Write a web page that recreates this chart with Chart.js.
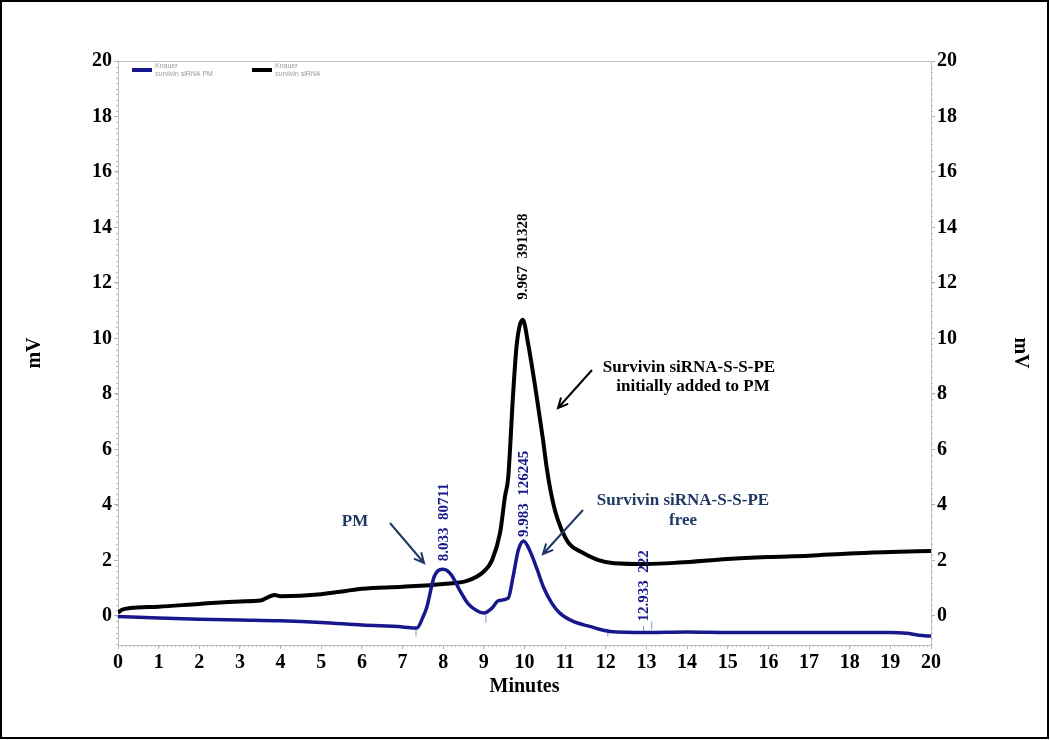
<!DOCTYPE html>
<html>
<head>
<meta charset="utf-8">
<script src="https://cdn.jsdelivr.net/npm/chart.js@4.4.0/dist/chart.umd.min.js"></script>
<style>
  html, body { margin: 0; padding: 0; background: #fff; }
  #wrap { width: 1050px; height: 740px; }
</style>
</head>
<body>
<div id="wrap"><canvas id="chrom" width="1050" height="740"></canvas></div>
<script>
// retention time (min) / signal (mV)
const blueTimes = [0, 1, 2, 3, 4, 5, 6, 7, 7.35, 7.5, 7.6, 7.78, 8.0, 8.2, 8.4, 8.6, 8.82, 9.0, 9.2, 9.36, 9.6, 9.72, 9.85, 9.98, 10.12, 10.3, 10.46, 10.67, 10.87, 11.2, 11.6, 12.1, 13, 14, 15, 16, 17, 18, 19, 19.4, 19.7, 20];
const blueSignal = [-0.02, -0.08, -0.12, -0.15, -0.18, -0.24, -0.33, -0.4, -0.44, -0.05, 0.33, 1.42, 1.68, 1.48, 0.94, 0.46, 0.19, 0.1, 0.28, 0.55, 0.64, 1.42, 2.38, 2.7, 2.38, 1.72, 1.06, 0.46, 0.1, -0.2, -0.38, -0.56, -0.6, -0.58, -0.6, -0.6, -0.6, -0.6, -0.6, -0.63, -0.7, -0.73];

const blackTimes = [0, 0.1, 0.3, 1, 2, 3, 3.5, 3.85, 4, 5, 5.6, 6, 7, 8, 8.6, 9, 9.2, 9.4, 9.52, 9.6, 9.72, 9.81, 9.96, 10.09, 10.3, 10.45, 10.55, 10.63, 10.75, 10.9, 11.1, 11.4, 11.8, 12.2, 13, 13.8, 15, 16, 17, 18, 19, 20];
const blackSignal = [0.12, 0.22, 0.28, 0.33, 0.43, 0.52, 0.55, 0.75, 0.71, 0.78, 0.9, 0.98, 1.05, 1.15, 1.27, 1.6, 2.0, 3.0, 4.3, 5.0, 8.0, 9.8, 10.67, 9.8, 7.9, 6.4, 5.3, 4.6, 3.8, 3.15, 2.6, 2.3, 2.02, 1.9, 1.87, 1.92, 2.05, 2.12, 2.17, 2.25, 2.3, 2.34];

// integration marks on the blue trace
const markTimes = [7.33, 9.05, 12.05, 12.93, 13.13];
const markSignal = [-0.6, -0.1, -0.6, -0.5, -0.35];

// peak tables
const bluePeakTimes = [8.033, 9.983, 12.933];
const bluePeakAreas = [80711, 126245, 222];
const bluePeakHeights = [1.68, 2.7, -0.6];
const blackPeakTimes = [9.967];
const blackPeakAreas = [391328];
const blackPeakHeights = [10.67];

const yTicks = [0, 2, 4, 6, 8, 10, 12, 14, 16, 18, 20];

const BLUE = '#18188c';
const NAVY = '#1f3864';
const SERIF = '"Liberation Serif", "Times New Roman", serif';

const pts = (xs, ys) => xs.map((x, i) => ({ x: x, y: ys[i] }));

const chromPlugin = {
  id: 'chromDecor',
  beforeDraw(chart) {
    const ctx = chart.ctx;
    ctx.save();
    ctx.fillStyle = '#fff';
    ctx.fillRect(0, 0, chart.width, chart.height);
    ctx.restore();
  },
  afterDraw(chart) {
    const ctx = chart.ctx;
    const a = chart.chartArea;
    const x = chart.scales.x, y = chart.scales.y;
    ctx.save();

    // frame top + minor ticks
    ctx.strokeStyle = '#bdbdbd';
    ctx.lineWidth = 1;
    ctx.beginPath();
    ctx.moveTo(a.left, a.top + 0.5); ctx.lineTo(a.right, a.top + 0.5);
    for (let t = 0; t <= 200; t++) {
      const px = Math.round(x.getPixelForValue(t / 10)) + 0.5;
      ctx.moveTo(px, a.bottom); ctx.lineTo(px, a.bottom + 2);
    }
    for (let v = -1; v <= 20.001; v += 0.2) {
      const py = Math.round(y.getPixelForValue(v)) + 0.5;
      ctx.moveTo(a.left - 2, py); ctx.lineTo(a.left, py);
      ctx.moveTo(a.right, py); ctx.lineTo(a.right + 2, py);
    }
    ctx.stroke();

    // legend inside plot
    const legendX = [132, 252];
    chart.data.datasets.slice(0, 2).forEach((ds, i) => {
      const lx = legendX[i];
      ctx.strokeStyle = ds.borderColor;
      ctx.lineWidth = 4;
      ctx.beginPath(); ctx.moveTo(lx, 70); ctx.lineTo(lx + 20, 70); ctx.stroke();
      ctx.fillStyle = '#9a9a9a';
      ctx.font = '7px "Liberation Sans", Arial, sans-serif';
      ctx.textAlign = 'left'; ctx.textBaseline = 'middle';
      ctx.fillText('Knauer', lx + 23, 66);
      ctx.fillText(ds.label, lx + 23, 74);
    });

    // vertical peak labels
    const peakLabel = (t, area, h, gap, color) => {
      ctx.save();
      ctx.translate(x.getPixelForValue(t), y.getPixelForValue(h) - gap);
      ctx.rotate(-Math.PI / 2);
      ctx.fillStyle = color;
      ctx.font = 'bold 15px ' + SERIF;
      ctx.textAlign = 'left'; ctx.textBaseline = 'middle';
      ctx.fillText(t.toFixed(3) + '  ' + area, 0, 0);
      ctx.restore();
    };
    const blueGaps = [8, 4, 11];
    bluePeakTimes.forEach((t, i) => peakLabel(t, bluePeakAreas[i], bluePeakHeights[i], blueGaps[i], BLUE));
    blackPeakTimes.forEach((t, i) => peakLabel(t, blackPeakAreas[i], blackPeakHeights[i], 20, '#000'));

    // callouts
    const arrow = (x1, y1, x2, y2, color) => {
      const ang = Math.atan2(y2 - y1, x2 - x1);
      ctx.strokeStyle = color;
      ctx.lineWidth = 2;
      ctx.beginPath();
      ctx.moveTo(x1, y1); ctx.lineTo(x2, y2);
      ctx.moveTo(x2 - 11 * Math.cos(ang - 0.45), y2 - 11 * Math.sin(ang - 0.45));
      ctx.lineTo(x2, y2);
      ctx.lineTo(x2 - 11 * Math.cos(ang + 0.45), y2 - 11 * Math.sin(ang + 0.45));
      ctx.stroke();
    };
    ctx.font = 'bold 17px ' + SERIF;
    ctx.textAlign = 'center'; ctx.textBaseline = 'middle';
    ctx.fillStyle = NAVY;
    ctx.fillText('PM', 355, 522);
    arrow(390, 523, 424, 563, NAVY);
    ctx.fillText('Survivin siRNA-S-S-PE', 683, 501);
    ctx.fillText('free', 683, 521);
    arrow(583, 510, 543, 554, NAVY);
    ctx.fillStyle = '#000';
    ctx.fillText('Survivin siRNA-S-S-PE', 689, 368);
    ctx.fillText('initially added to PM', 693, 387);
    arrow(592, 370, 558, 408, '#000');

    // outer border
    ctx.strokeStyle = '#000';
    ctx.lineWidth = 2;
    ctx.strokeRect(1, 1, chart.width - 3, chart.height - 3);
    ctx.restore();
  }
};

const tickFont = { family: SERIF, size: 20, weight: 'bold' };
const yAxis = (pos, width, pad) => ({
  type: 'linear',
  position: pos,
  min: -1.05,
  max: 20,
  afterBuildTicks: s => { s.ticks = yTicks.map(v => ({ value: v })); },
  afterFit: s => { s.width = width; },
  grid: { drawOnChartArea: false, tickLength: 4, color: '#b0b0b0' },
  border: { color: '#bdbdbd' },
  ticks: { color: '#000', font: tickFont, padding: 2 },
  title: { display: true, text: 'mV', color: '#000', font: tickFont, padding: { top: pad, bottom: 0 } }
});

new Chart(document.getElementById('chrom'), {
  type: 'line',
  data: {
    datasets: [
      {
        label: 'survivin siRNA PM',
        data: pts(blueTimes, blueSignal),
        borderColor: BLUE,
        borderWidth: 3.5,
        pointRadius: 0,
        cubicInterpolationMode: 'monotone'
      },
      {
        label: 'survivin siRNA',
        data: pts(blackTimes, blackSignal),
        borderColor: '#000',
        borderWidth: 4,
        pointRadius: 0,
        cubicInterpolationMode: 'monotone'
      },
      {
        label: 'marks',
        data: pts(markTimes, markSignal),
        showLine: false,
        pointStyle: 'line',
        rotation: 90,
        pointRadius: 4,
        borderWidth: 1,
        borderColor: '#8a8fd0',
        backgroundColor: '#8a8fd0'
      }
    ]
  },
  options: {
    responsive: false,
    animation: false,
    layout: { padding: { top: 61, left: 0, right: 0, bottom: 0 } },
    plugins: { legend: { display: false }, tooltip: { enabled: false } },
    scales: {
      x: {
        type: 'linear',
        min: 0,
        max: 20,
        afterFit: s => { s.height = 95; },
        grid: { drawOnChartArea: false, tickLength: 4, color: '#b0b0b0' },
        border: { color: '#bdbdbd' },
        ticks: { stepSize: 1, color: '#000', font: tickFont, padding: 2, maxRotation: 0 },
        title: { display: true, text: 'Minutes', color: '#000', font: tickFont, padding: { top: 0, bottom: 41 } }
      },
      y: yAxis('left', 118, 23),
      y2: yAxis('right', 119, 18)
    }
  },
  plugins: [chromPlugin]
});
</script>
</body>
</html>
